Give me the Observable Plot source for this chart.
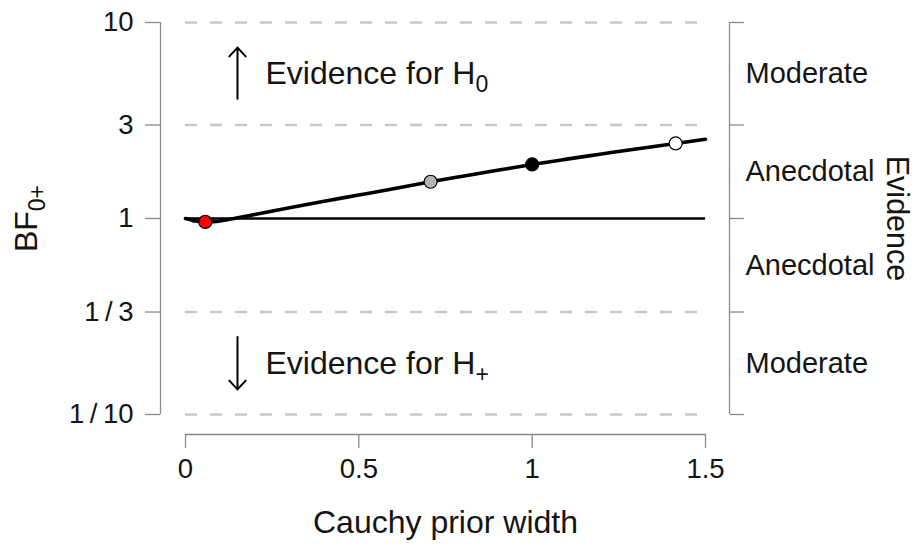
<!DOCTYPE html>
<html>
<head>
<meta charset="utf-8">
<script src="https://cdn.jsdelivr.net/npm/d3@7"></script>
<script src="https://cdn.jsdelivr.net/npm/@observablehq/plot@0.6"></script>
<style>
  html, body { margin: 0; padding: 0; background: #fff; }
</style>
</head>
<body>
<div id="chart"></div>
<script>
// Bayes factor robustness check: BF0+ as a function of the Cauchy prior width.
const priorWidths = [0, 0.01, 0.02, 0.03, 0.04, 0.057, 0.08, 0.1, 0.12, 0.14, 0.2, 0.3, 0.4, 0.5, 0.6, 0.707, 0.8, 0.9, 1.0, 1.1, 1.2, 1.3, 1.414, 1.5];
const bf0plus = [1.0, 0.99, 0.978, 0.97, 0.965, 0.961, 0.964, 0.972, 0.985, 1.0, 1.049, 1.135, 1.225, 1.318, 1.419, 1.54, 1.644, 1.762, 1.888, 2.009, 2.133, 2.265, 2.415, 2.535];

// Highlighted prior widths: max evidence, user prior, wide, ultrawide
const markerWidths = [0.057, 0.707, 1.0, 1.414];
const markerBF = [0.961, 1.54, 1.888, 2.415];
const markerKinds = ["max", "user", "wide", "ultrawide"];

const xTicks = [0, 0.5, 1, 1.5];
const yTicks = [1 / 10, 1 / 3, 1, 3, 10];
const yTickLabels = ["1\u2009/\u200910", "1\u2009/\u20093", "1", "3", "10"];

// Evidence categories, top to bottom, with their BF bounds
const evidenceLabels = ["Moderate", "Anecdotal", "Anecdotal", "Moderate"];
const evidenceLower = [3, 1, 1 / 3, 1 / 10];
const evidenceUpper = [10, 3, 1, 1 / 3];

const curve = priorWidths.map((w, i) => ({w, bf: bf0plus[i]}));
const markers = markerWidths.map((w, i) => ({w, bf: markerBF[i], kind: markerKinds[i]}));
const bands = evidenceLabels.map((label, i) => ({label, mid: Math.sqrt(evidenceLower[i] * evidenceUpper[i])}));
const kindFill = {max: "#ff0000", user: "#b4b4b4", wide: "#000000", ultrawide: "#ffffff"};

const FONT = "'Liberation Sans', Arial, Helvetica, sans-serif";
const TEXT = "#141414";
const AXIS = "#8a8a8a";
const FS_TICK = 27.5;
const FS_BAND = 29;
const FS_TITLE = 32;

const chart = Plot.plot({
  width: 916,
  height: 550,
  marginLeft: 160,
  marginRight: 187,
  marginTop: 22,
  marginBottom: 116,
  style: {fontFamily: FONT, fontSize: FS_TICK + "px", color: TEXT, background: "#fff", overflow: "visible"},
  x: {domain: [xTicks[0], xTicks[xTicks.length - 1]], range: [185, 705], label: null},
  y: {type: "log", domain: [yTicks[0], yTicks[yTicks.length - 1]], range: [414, 22], label: null},
  color: {type: "identity"},
  marks: [
    // dashed reference lines at the evidence thresholds
    Plot.ruleY(yTicks.filter(v => v !== 1), {x1: xTicks[0], x2: xTicks[xTicks.length - 1], stroke: "#c8c8c8", strokeWidth: 2.6, strokeDasharray: "12,13"}),
    // BF = 1
    Plot.ruleY([1], {x1: xTicks[0], x2: xTicks[xTicks.length - 1], stroke: "#000", strokeWidth: 2.6}),

    // left axis
    Plot.ruleX([xTicks[0]], {y1: yTicks[0], y2: yTicks[yTicks.length - 1], dx: -25, stroke: AXIS, strokeWidth: 1.3}),
    Plot.axisY(yTicks, {anchor: "left", tickSize: 15, tickPadding: 12, stroke: AXIS, strokeWidth: 1.3, fill: TEXT, fontSize: FS_TICK, label: null,
      tickFormat: d => yTickLabels[yTicks.indexOf(d)]}),

    // right evidence bracket
    Plot.ruleX([xTicks[xTicks.length - 1]], {y1: yTicks[0], y2: yTicks[yTicks.length - 1], dx: 24, stroke: AXIS, strokeWidth: 1.3}),
    Plot.axisY(yTicks, {anchor: "right", tickSize: 14, stroke: AXIS, strokeWidth: 1.3, fill: "none", label: null}),
    Plot.text(bands, {y: "mid", text: "label", frameAnchor: "right", textAnchor: "start", dx: 16, fill: TEXT, fontSize: FS_BAND}),
    Plot.text(["Evidence"], {y: 1, frameAnchor: "right", textAnchor: "middle", lineAnchor: "middle", dx: 167, rotate: 90, fill: TEXT, fontSize: 30.5}),

    // bottom axis
    Plot.ruleY([yTicks[0]], {x1: xTicks[0], x2: xTicks[xTicks.length - 1], dy: 20, stroke: AXIS, strokeWidth: 1.3}),
    Plot.axisX(xTicks, {anchor: "bottom", tickSize: 14, tickPadding: 10, stroke: AXIS, strokeWidth: 1.3, fill: TEXT, fontSize: FS_TICK, label: null,
      tickFormat: d => String(d)}),
    Plot.text(["Cauchy prior width"], {x: (xTicks[0] + xTicks[xTicks.length - 1]) / 2, frameAnchor: "bottom", textAnchor: "middle", lineAnchor: "middle", dy: 88, fill: TEXT, fontSize: FS_TITLE}),

    // y axis title
    Plot.text(["BF_0+"], {y: 1, frameAnchor: "left", textAnchor: "middle", lineAnchor: "middle", dx: -134, rotate: -90, fill: TEXT, fontSize: FS_TITLE}),

    // direction annotations
    Plot.arrow([bands[0]], {x1: xTicks[0], x2: xTicks[0], y1: d => d.mid / 1.34, y2: d => d.mid * 1.36, dx: 52, stroke: "#000", strokeWidth: 2, headAngle: 86, headLength: 9}),
    Plot.arrow([bands[3]], {x1: xTicks[0], x2: xTicks[0], y1: d => d.mid * 1.36, y2: d => d.mid / 1.36, dx: 52, stroke: "#000", strokeWidth: 2, headAngle: 86, headLength: 9}),
    Plot.text([bands[0]], {y: "mid", text: () => "Evidence for H_0", frameAnchor: "left", textAnchor: "start", dx: 105, fill: TEXT, fontSize: FS_TITLE}),
    Plot.text([bands[3]], {y: "mid", text: () => "Evidence for H_+", frameAnchor: "left", textAnchor: "start", dx: 105, fill: TEXT, fontSize: FS_TITLE}),

    // robustness curve and highlighted priors
    Plot.line(curve, {x: "w", y: "bf", stroke: "#000", strokeWidth: 3.6, curve: "monotone-x"}),
    Plot.dot(markers, {x: "w", y: "bf", r: 6.5, fill: d => kindFill[d.kind], stroke: "#000", strokeWidth: 1.2})
  ]
});

document.getElementById("chart").appendChild(chart);

// Render "X_sub" labels with a proper subscript.
d3.select(chart).selectAll("text").each(function () {
  const s = this.textContent;
  const k = s.indexOf("_");
  if (k < 0) return;
  const fs = parseFloat(getComputedStyle(this).fontSize) || FS_TITLE;
  const t = d3.select(this);
  t.text(null);
  t.append("tspan").text(s.slice(0, k));
  t.append("tspan").attr("font-size", fs * 0.72).attr("dy", fs * 0.26).text(s.slice(k + 1));
});
</script>
</body>
</html>
